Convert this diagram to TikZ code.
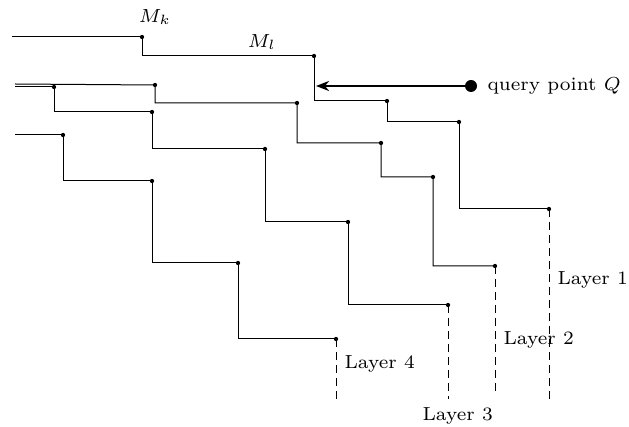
\documentclass[tikz,border=0pt]{standalone}
\usetikzlibrary{arrows.meta}
\begin{document}
\begin{tikzpicture}[x=1pt,y=-1pt,
  dot/.style={circle,fill=black,inner sep=0pt,minimum size=4.3pt},
  stair/.style={line width=1pt},
  tail/.style={line width=1pt,dash pattern=on 8pt off 5pt},
  lbl/.style={font=\scriptsize,scale=2.7,inner sep=0pt},
  qdot/.style={circle,fill=black,inner sep=0pt,minimum size=12pt}]
\useasboundingbox (0,0) rectangle (629,427);
% Layer 1
\coordinate (s1) at (12,37);
\node[dot] (k) at (142,37) {};
\node[dot] (l) at (314,56) {};
\node[dot] (a13) at (387,101) {};
\node[dot] (a14) at (459,122) {};
\node[dot] (a15) at (549,209) {};
\coordinate (e1) at (549,402);
\draw[stair] (s1) -- (k.center) |- (l.center) |- (a13.center) |- (a14.center) |- (a15.center);
\draw[tail] (a15.center) -- (e1);
% Layer 2
\coordinate (s2) at (15,84);
\node[dot] (a21) at (155,85) {};
\node[dot] (a22) at (297,103) {};
\node[dot] (a23) at (381,143) {};
\node[dot] (a24) at (433,177) {};
\node[dot] (a25) at (495,266) {};
\coordinate (e2) at (495,394);
\draw[stair] (s2) -- (a21.center) |- (a22.center) |- (a23.center) |- (a24.center) |- (a25.center);
\draw[tail] (a25.center) -- (e2);
% Layer 3
\coordinate (s3) at (15,87);
\node[dot] (a31) at (54,87) {};
\node[dot] (a32) at (152,112) {};
\node[dot] (a33) at (265,149) {};
\node[dot] (a34) at (348,222) {};
\node[dot] (a35) at (448,305) {};
\coordinate (e3) at (448,399);
\draw[stair] (s3) -- (a31.center) |- (a32.center) |- (a33.center) |- (a34.center) |- (a35.center);
\draw[tail] (a35.center) -- (e3);
% Layer 4
\coordinate (s4) at (15,135);
\node[dot] (a41) at (63,135) {};
\node[dot] (a42) at (152,181) {};
\node[dot] (a43) at (238,263) {};
\node[dot] (a44) at (336,339) {};
\coordinate (e4) at (336,399);
\draw[stair] (s4) -- (a41.center) |- (a42.center) |- (a43.center) |- (a44.center);
\draw[tail] (a44.center) -- (e4);
% query point
\node[qdot] (q) at (471,86) {};
\coordinate (qt) at (316,86);
\draw[line width=2.8pt,-{Stealth[length=13pt,width=10pt,inset=4pt]}] (q.center) -- (qt);
\node[lbl,anchor=west] (ql) at (487,86) {query point $Q$};
% labels
\node[lbl] (mk) at (155,17) {$M_k$};
\node[lbl] (ml) at (262,42) {$M_l$};
\node[lbl,anchor=west] (L1) at (557,280) {Layer 1};
\node[lbl,anchor=west] (L2) at (503,340) {Layer 2};
\node[lbl,anchor=west] (L4) at (344,364) {Layer 4};
\node[lbl,anchor=west] (L3) at (422,416) {Layer 3};
\end{tikzpicture}
\end{document}
